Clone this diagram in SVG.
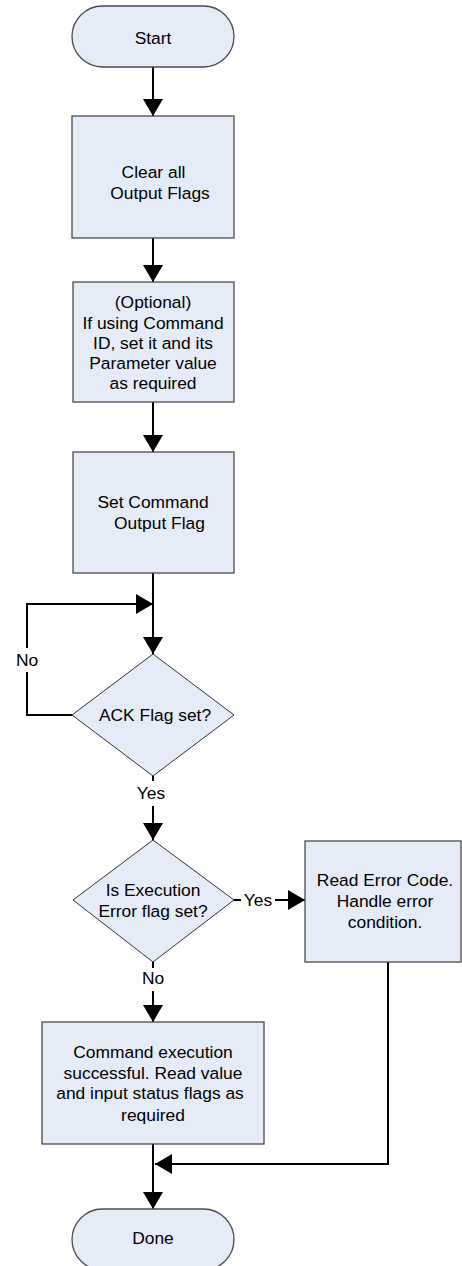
<svg xmlns="http://www.w3.org/2000/svg" width="462" height="1266" viewBox="0 0 462 1266">
<style>
.box{fill:#e6ecf7;stroke:#4a4a4a;stroke-width:1.3}
.dia{fill:#e6ecf7;stroke:#333;stroke-width:1}
.t{font-family:"Liberation Sans",Arial,sans-serif;font-size:17.4px;fill:#000;text-anchor:middle}
.c{fill:none;stroke:#000;stroke-width:2}
.bg{fill:#fff}
</style>
<defs>
<marker id="ah" markerUnits="userSpaceOnUse" markerWidth="18" markerHeight="20" refX="17" refY="10" orient="auto" viewBox="0 0 18 20">
<path d="M0,0 L17,10 L0,20 Z" fill="#000"/>
</marker>
</defs>
<rect width="462" height="1266" fill="#fff"/>
<g id="connectors">
<path class="c" d="M153,67 V116" marker-end="url(#ah)"/>
<path class="c" d="M153,238 V282" marker-end="url(#ah)"/>
<path class="c" d="M153,402 V452" marker-end="url(#ah)"/>
<path class="c" d="M153,573 V654" marker-end="url(#ah)"/>
<path class="c" d="M72,715 H27 V604 H153" marker-end="url(#ah)"/>
<path class="c" d="M153,776 V840" marker-end="url(#ah)"/>
<path class="c" d="M234,900 H305" marker-end="url(#ah)"/>
<path class="c" d="M153,962 V1022" marker-end="url(#ah)"/>
<path class="c" d="M153,1144 V1209" marker-end="url(#ah)"/>
<path class="c" d="M388,962 V1164 H155" marker-end="url(#ah)"/>
<rect class="bg" x="12" y="648" width="30" height="24"/>
<text class="t" x="27" y="666">No</text>
<rect class="bg" x="136" y="781" width="30" height="25"/>
<text class="t" x="151" y="799">Yes</text>
<rect class="bg" x="241" y="888" width="34" height="24"/>
<text class="t" x="258" y="906">Yes</text>
<rect class="bg" x="140" y="968" width="26" height="23"/>
<text class="t" x="153" y="984">No</text>
</g>
<g id="start">
<rect class="box" x="72" y="6" width="162" height="61" rx="30.5" ry="30.5"/>
<text class="t" x="153" y="44">Start</text>
</g>
<g id="clear">
<rect class="box" x="72" y="116" width="162" height="122"/>
<text class="t" x="153.5" y="178">Clear all</text>
<text class="t" x="160" y="199">Output Flags</text>
</g>
<g id="optional">
<rect class="box" x="73" y="282" width="161" height="120"/>
<text class="t" x="153" y="308">(Optional)</text>
<text class="t" x="153" y="328.5">If using Command</text>
<text class="t" x="153" y="349">ID, set it and its</text>
<text class="t" x="153" y="369">Parameter value</text>
<text class="t" x="153" y="389">as required</text>
</g>
<g id="setcmd">
<rect class="box" x="73" y="452" width="161" height="121"/>
<text class="t" x="153" y="508">Set Command</text>
<text class="t" x="159.5" y="529">Output Flag</text>
</g>
<g id="ack">
<polygon class="dia" points="153,654 234,715 153,776 72,715"/>
<text class="t" x="155" y="721">ACK Flag set?</text>
</g>
<g id="execerr">
<polygon class="dia" points="153,840 234,900 153,962 73,900"/>
<text class="t" x="153" y="896">Is Execution</text>
<text class="t" x="153" y="917">Error flag set?</text>
</g>
<g id="readerr">
<rect class="box" x="305" y="841" width="156" height="121"/>
<text class="t" x="385" y="886">Read Error Code.</text>
<text class="t" x="385" y="907">Handle error</text>
<text class="t" x="385" y="928">condition.</text>
</g>
<g id="success">
<rect class="box" x="42" y="1022" width="222" height="122"/>
<text class="t" x="153" y="1058">Command execution</text>
<text class="t" x="153" y="1078.5">successful. Read value</text>
<text class="t" x="150" y="1099">and input status flags as</text>
<text class="t" x="153" y="1121">required</text>
</g>
<g id="done">
<rect class="box" x="72" y="1209" width="162" height="61" rx="30.5" ry="30.5"/>
<text class="t" x="153" y="1244">Done</text>
</g>
</svg>
